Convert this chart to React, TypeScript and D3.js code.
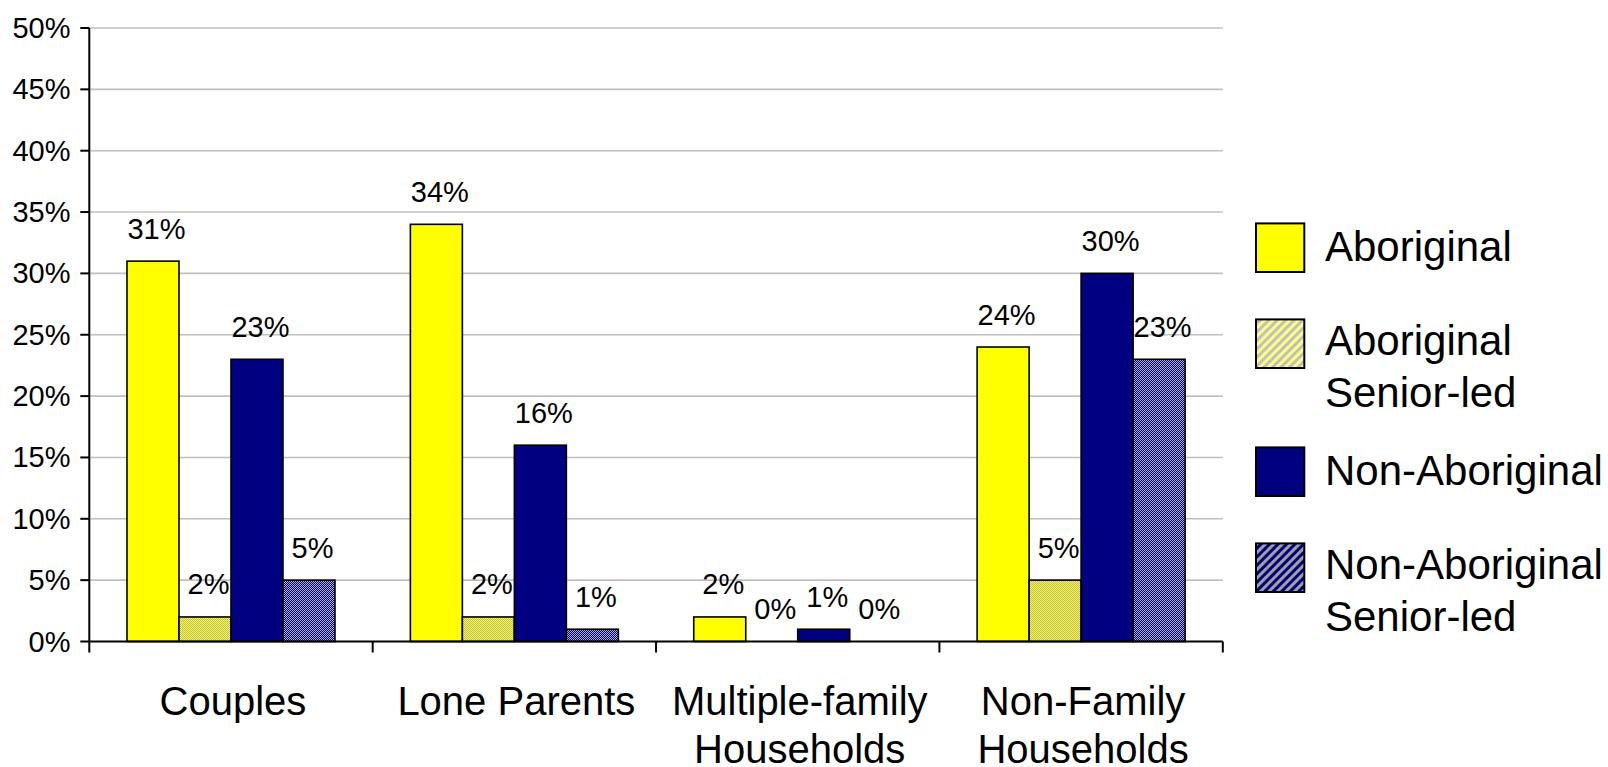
import React from "react";
import * as d3 from "d3";

const categories: string[][] = [
  ["Couples"],
  ["Lone Parents"],
  ["Multiple-family", "Households"],
  ["Non-Family", "Households"],
];
const seriesNames: string[][] = [
  ["Aboriginal"],
  ["Aboriginal", "Senior-led"],
  ["Non-Aboriginal"],
  ["Non-Aboriginal", "Senior-led"],
];
const aboriginal = [31, 34, 2, 24];
const aboriginalSenior = [2, 2, 0, 5];
const nonAboriginal = [23, 16, 1, 30];
const nonAboriginalSenior = [5, 1, 0, 23];
const yTicks = [0, 5, 10, 15, 20, 25, 30, 35, 40, 45, 50];

const seriesValues = [aboriginal, aboriginalSenior, nonAboriginal, nonAboriginalSenior];
const seriesFill = ["#FFFF00", "url(#pYellow)", "#000080", "url(#pNavy)"];
const legendFill = ["#FFFF00", "url(#lYellow)", "#000080", "url(#lNavy)"];

const W = 1608;
const H = 767;
const left = 89.3;
const right = 1222.8;
const top = 28;
const bottom = 641.5;
const FONT = "'Liberation Sans', Arial, sans-serif";

function finePattern(id: string, base: string, stripe: string) {
  return (
    <pattern id={id} patternUnits="userSpaceOnUse" width={2} height={2}>
      <rect width={2} height={2} fill={base} />
      <rect x={0} y={0} width={1} height={1} fill={stripe} />
      <rect x={1} y={1} width={1} height={1} fill={stripe} />
    </pattern>
  );
}

export default function App() {
  const y = d3.scaleLinear().domain([0, 50]).range([bottom, top]);
  const x0 = d3
    .scaleBand<number>()
    .domain(d3.range(categories.length))
    .range([left, right])
    .paddingInner(0)
    .paddingOuter(0);
  const x1 = d3
    .scaleBand<number>()
    .domain(d3.range(seriesValues.length))
    .range([0, x0.bandwidth()])
    .paddingInner(0)
    .paddingOuter(0.725);

  const boundaries = d3.range(categories.length + 1).map((i) =>
    i < categories.length ? (x0(i) as number) : right
  );

  const legendRowsY = [247.7, 343.7, 471.7, 567.7];

  return (
    <div style={{ position: "fixed", left: 0, top: 0, width: W, height: H, background: "#fff" }}>
      <svg width={W} height={H} style={{ display: "block" }} fontFamily={FONT}>
        <defs>
          {finePattern("pYellow", "#FFFF00", "#B8B8A8")}
          {finePattern("pNavy", "#000080", "#B4B4C0")}
          <pattern id="lYellow" patternUnits="userSpaceOnUse" width={6} height={6} patternTransform="rotate(45)">
            <rect width={6} height={6} fill="#FFFF80" />
            <rect width={3} height={6} fill="#C0C0C0" />
          </pattern>
          <pattern id="lNavy" patternUnits="userSpaceOnUse" width={6} height={6} patternTransform="rotate(45)">
            <rect width={6} height={6} fill="#000080" />
            <rect width={3} height={6} fill="#A0A0A0" />
          </pattern>
        </defs>

        {/* gridlines */}
        {yTicks.filter((t) => t > 0).map((t) => (
          <line key={"g" + t} x1={left} x2={right} y1={y(t)} y2={y(t)} stroke="#C0C0C0" strokeWidth={1.6} />
        ))}

        {/* bars */}
        {categories.map((_, ci) =>
          seriesValues.map((vals, si) => {
            const bx = (x0(ci) as number) + (x1(si) as number);
            const v = vals[ci];
            if (v <= 0) return null;
            return (
              <rect
                key={`b${ci}-${si}`}
                x={bx}
                y={y(v)}
                width={x1.bandwidth()}
                height={y(0) - y(v)}
                fill={seriesFill[si]}
                stroke="#000"
                strokeWidth={1.6}
              />
            );
          })
        )}

        {/* data labels */}
        {categories.map((_, ci) =>
          seriesValues.map((vals, si) => {
            const bx = (x0(ci) as number) + (x1(si) as number) + x1.bandwidth() / 2;
            const v = vals[ci];
            return (
              <text
                key={`l${ci}-${si}`}
                x={bx + 3.5}
                y={y(v) - 22.5}
                fontSize={29}
                textAnchor="middle"
                fill="#000"
              >
                {v + "%"}
              </text>
            );
          })
        )}

        {/* axes */}
        <line x1={left} x2={left} y1={top} y2={bottom} stroke="#000" strokeWidth={2} />
        <line x1={left} x2={right} y1={bottom} y2={bottom} stroke="#000" strokeWidth={2} />
        {yTicks.map((t) => (
          <g key={"yt" + t}>
            <line x1={left - 9} x2={left} y1={y(t)} y2={y(t)} stroke="#000" strokeWidth={2} />
            <text x={70.5} y={y(t) + 10} fontSize={29} textAnchor="end" fill="#000">
              {t + "%"}
            </text>
          </g>
        ))}
        {boundaries.map((bx, i) => (
          <line key={"xt" + i} x1={bx} x2={bx} y1={bottom} y2={bottom + 11} stroke="#000" strokeWidth={2} />
        ))}

        {/* category labels */}
        {categories.map((lines, ci) => {
          const cx = (x0(ci) as number) + x0.bandwidth() / 2 + 2;
          return (
            <text key={"c" + ci} x={cx} textAnchor="middle" fontSize={40} fill="#000">
              {lines.map((ln, li) => (
                <tspan key={li} x={cx} y={715 + li * 48}>
                  {ln}
                </tspan>
              ))}
            </text>
          );
        })}

        {/* legend */}
        {seriesNames.map((lines, si) => {
          const cy = legendRowsY[si];
          const ty = lines.length === 1 ? cy + 13 : cy + 11;
          return (
            <g key={"lg" + si}>
              <rect
                x={1256}
                y={cy - 24.3}
                width={48.3}
                height={48.6}
                fill={legendFill[si]}
                stroke="#000"
                strokeWidth={2}
              />
              <text fontSize={42} fill="#000">
                {lines.map((ln, li) => (
                  <tspan key={li} x={1325} y={ty + li * 52}>
                    {ln}
                  </tspan>
                ))}
              </text>
            </g>
          );
        })}
      </svg>
    </div>
  );
}
